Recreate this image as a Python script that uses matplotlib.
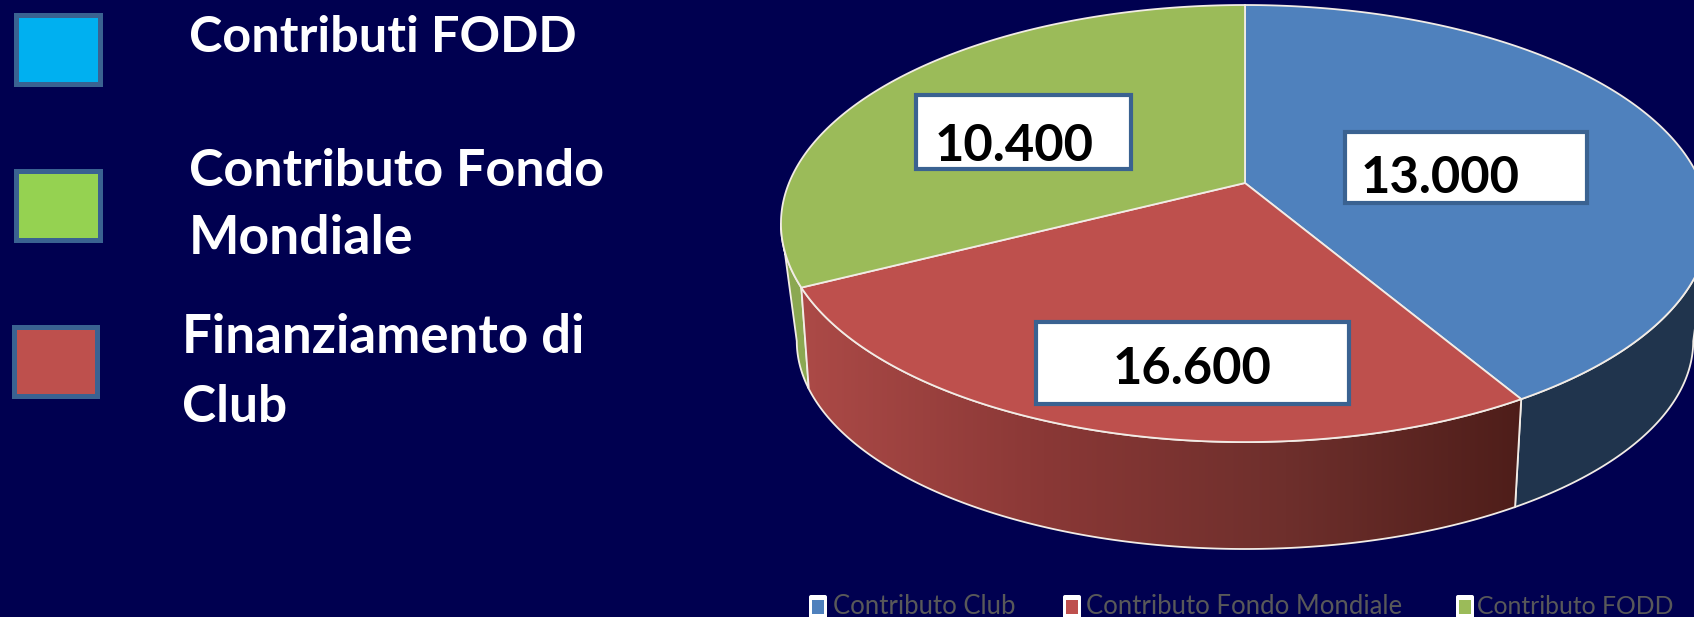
import numpy as np
import matplotlib
matplotlib.use("Agg")
import matplotlib.pyplot as plt
from matplotlib.colors import LinearSegmentedColormap
from matplotlib.patches import Polygon, Rectangle, FancyBboxPatch

# slices as drawn (clockwise from the top)
slice_names = ["Contributo Club", "Contributo Fondo Mondiale", "Contributo FODD"]
slice_values = [16600, 10400, 13000]
slice_colors = ["#4F81BD", "#BE504D", "#9BBB59"]

# text boxes laid over the pie
box_labels = ["13.000", "16.600", "10.400"]

# legend on the left
left_labels = [["Contributi FODD"], ["Contributo Fondo", "Mondiale"], ["Finanziamento di", "Club"]]
left_colors = ["#00B0F0", "#95D251", "#BE504D"]

BG = "#000050"
EDGE = "#F2ECE6"
BOX_EDGE = "#3A6291"
plt.rcParams["font.family"] = ["Lato", "DejaVu Sans"]


# pie is a tilted disc, so project the unit circle with some perspective
def disc(theta, cx, cy, xs, ys, tilt):
    u, v = np.sin(theta), np.cos(theta)
    d = 1 + tilt * v
    return np.column_stack([cx + xs * u / d, cy - ys * v / d])


def top_face(theta):
    return disc(theta, 1245, 183, 456, 211, 0.1855)


def bottom_rim(theta):
    return disc(theta, 1245, 289, 434, 195, 0.25)


def arc(a, b):
    return np.radians(np.linspace(a, b, 200))


fig = plt.figure(figsize=(16.94, 6.17), dpi=100, facecolor=BG)
ax = fig.add_axes([0, 0, 1, 1])
ax.set_facecolor(BG)

cuts = np.concatenate([[0], np.cumsum(slice_values)]) / sum(slice_values) * 360
# where the wall outlines leave each ellipse, differs a bit between top and bottom
top_left, top_right = 259.3, 100.7
rim_left, rim_right = 255.5, 104.5
seam = cuts[1] + 1.5

# side walls
blue_side = np.vstack([top_face(arc(top_right, cuts[1])), bottom_rim(arc(seam, rim_right))])
ax.add_patch(Polygon(blue_side, closed=True, fc="#20344D", ec=EDGE, lw=1.3, zorder=2))

green_side = np.vstack([top_face(arc(cuts[2], top_left)), bottom_rim(arc(rim_left, cuts[2]))])
ax.add_patch(Polygon(green_side, closed=True, fc="#8BA851", ec=EDGE, lw=1.3, zorder=2))

red_side = np.vstack([top_face(arc(cuts[1], cuts[2])), bottom_rim(arc(cuts[2], seam))])
red_patch = Polygon(red_side, closed=True, fc="none", ec="none", zorder=2)
ax.add_patch(red_patch)
shade = LinearSegmentedColormap.from_list("shade", ["#AC4A47", "#8A3836", "#6E2F2C", "#4D1D19"])
grad = ax.imshow(np.linspace(0, 1, 256).reshape(1, -1), cmap=shade, aspect="auto",
                 extent=[800, 1530, 560, 280], zorder=2)
grad.set_clip_path(red_patch)
ax.add_patch(Polygon(red_side, closed=True, fc="none", ec=EDGE, lw=1.3, zorder=3))

# top face
apex = np.array([1245, 183])
for i, color in enumerate(slice_colors):
    pts = np.vstack([apex, top_face(arc(cuts[i], cuts[i + 1]))])
    ax.add_patch(Polygon(pts, closed=True, fc=color, ec=EDGE, lw=1.3, zorder=4))

# boxes over the pie
box_rects = [(1345, 132, 242, 71), (1036, 322, 313, 82), (916, 95, 215, 74)]
box_text = [(1361, 193), (1113, 384), (935, 161)]
for label, (x, y, w, h), (tx, ty) in zip(box_labels, box_rects, box_text):
    ax.add_patch(Rectangle((x, y), w, h, fc="white", ec=BOX_EDGE, lw=3, zorder=5))
    ax.text(tx, ty, label, fontsize=36.5, fontweight="bold", color="black", va="baseline", zorder=6)

# left legend
square_rects = [(16, 15, 84, 69), (16, 171, 84, 69), (14, 327, 83, 69)]
text_x = [[189], [189, 189], [182, 182]]
text_y = [[52], [186, 254], [353, 422]]
text_size = [[36.3], [37.5, 38.5], [38, 37]]
for rect, color, lines, txs, tys, sizes in zip(square_rects, left_colors, left_labels, text_x, text_y, text_size):
    ax.add_patch(Rectangle(rect[:2], rect[2], rect[3], fc=color, ec=BOX_EDGE, lw=3.6, zorder=5))
    for line, tx, ty, size in zip(lines, txs, tys, sizes):
        ax.text(tx, ty, line, fontsize=size, fontweight="bold", color="white", va="baseline", zorder=6)

# chart legend at the bottom, partly cut off by the crop
swatch_x = [809, 1063, 1456]
legend_x = [833, 1086, 1477]
legend_size = [18.5, 18.5, 17.8]
for name, color, sx, lx, size in zip(slice_names, slice_colors, swatch_x, legend_x, legend_size):
    ax.add_patch(FancyBboxPatch((sx + 2, 597), 14, 24, boxstyle="round,pad=2", fc="white", ec="none", zorder=5))
    ax.add_patch(Rectangle((sx + 3, 600), 12, 14, fc=color, ec="none", zorder=6))
    ax.text(lx, 614, name, fontsize=size, color="#595959", va="baseline", zorder=6)

ax.set_xlim(0, 1694)
ax.set_ylim(617, 0)
ax.axis("off")

fig.savefig("out.png", dpi=100, facecolor=BG)
